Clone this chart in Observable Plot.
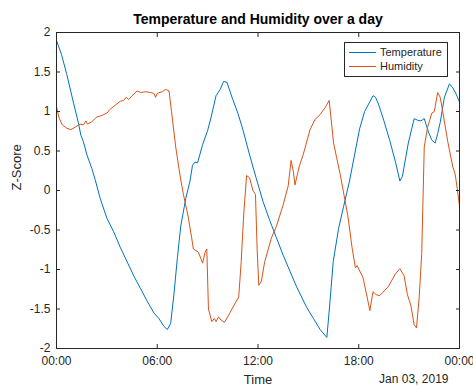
<!DOCTYPE html>
<html>
<head>
<meta charset="utf-8">
<script src="https://cdn.jsdelivr.net/npm/d3@7"></script>
<script src="https://cdn.jsdelivr.net/npm/@observablehq/plot@0.6"></script>
<style>
  html, body { margin: 0; padding: 0; background: #fff; }
  #wrap { position: relative; width: 473px; height: 387px; font-family: "Liberation Sans", Arial, sans-serif; }
  #legend { position: absolute; left: 344px; top: 42px; width: 102px; height: 33px; border: 1px solid #262626; background: #fff; font-size: 11px; color: #262626; }
  .item { position: absolute; left: 4px; height: 14px; display: flex; align-items: center; }
  .sw { width: 27px; height: 1px; margin-right: 4px; }
</style>
</head>
<body>
<div id="wrap"></div>
<script>
// ---- data (hours since midnight, z-score) ----
const title = "Temperature and Humidity over a day";
const xLabel = "Time";
const yLabel = "Z-Score";
const dateLabel = "Jan 03, 2019";
const seriesNames = ["Temperature", "Humidity"];
const seriesColors = ["#0072BD", "#D95319"];
const yTicks = [-2, -1.5, -1, -0.5, 0, 0.5, 1, 1.5, 2];
const xTickHours = [0, 6, 12, 18, 24];

const temperature = [
  [0, 1.90], [0.3, 1.72], [0.6, 1.48], [1.0, 1.12], [1.3, 0.86], [1.45, 0.70], [1.6, 0.62],
  [1.8, 0.46], [2.1, 0.28], [2.3, 0.14], [2.6, -0.10], [3.0, -0.35], [3.4, -0.52], [3.8, -0.72],
  [4.2, -0.90], [4.6, -1.08], [5.0, -1.24], [5.4, -1.40], [5.8, -1.55], [6.1, -1.62], [6.4, -1.72],
  [6.6, -1.76], [6.8, -1.68], [7.0, -1.30], [7.2, -0.85], [7.4, -0.45], [7.7, -0.10], [7.95, 0.12],
  [8.1, 0.32], [8.25, 0.36], [8.4, 0.35], [8.7, 0.58], [9.0, 0.76], [9.2, 0.92], [9.5, 1.20],
  [9.75, 1.28], [9.95, 1.38], [10.15, 1.37], [10.5, 1.15], [10.8, 0.98], [11.1, 0.77], [11.5, 0.45],
  [11.9, 0.15], [12.3, -0.14], [12.7, -0.38], [13.1, -0.60], [13.5, -0.82], [13.9, -1.02],
  [14.3, -1.22], [14.9, -1.48], [15.3, -1.62], [15.7, -1.76], [16.1, -1.86], [16.25, -1.50],
  [16.48, -0.90], [16.8, -0.48], [17.1, -0.20], [17.45, 0.12], [17.75, 0.45], [18.05, 0.78],
  [18.35, 1.00], [18.65, 1.12], [18.85, 1.20], [19.0, 1.18], [19.2, 1.08], [19.5, 0.88],
  [19.85, 0.63], [20.2, 0.35], [20.45, 0.12], [20.6, 0.18], [20.95, 0.60], [21.3, 0.91],
  [21.5, 0.89], [21.7, 0.88], [21.9, 0.91], [22.15, 0.74], [22.35, 0.64], [22.55, 0.60],
  [22.7, 0.72], [22.85, 0.86], [23.1, 1.18], [23.4, 1.35], [23.6, 1.30], [23.8, 1.22], [24.0, 1.12]
];

const humidity = [
  [0, 1.06], [0.15, 0.92], [0.35, 0.83], [0.6, 0.79], [0.85, 0.77], [1.1, 0.80], [1.4, 0.84],
  [1.6, 0.83], [1.75, 0.88], [1.85, 0.84], [2.1, 0.87], [2.4, 0.93], [2.7, 0.95], [3.0, 0.98],
  [3.2, 1.03], [3.5, 1.08], [3.8, 1.13], [4.0, 1.14], [4.15, 1.18], [4.3, 1.15], [4.5, 1.20],
  [4.8, 1.26], [5.0, 1.24], [5.3, 1.25], [5.6, 1.24], [5.8, 1.23], [5.9, 1.18], [6.0, 1.23],
  [6.3, 1.25], [6.5, 1.28], [6.7, 1.26], [6.85, 1.00], [7.1, 0.55], [7.35, 0.20], [7.55, -0.04],
  [7.85, -0.34], [8.05, -0.60], [8.15, -0.74], [8.45, -0.78], [8.7, -0.92], [8.85, -0.78],
  [8.95, -0.74], [9.05, -1.50], [9.25, -1.66], [9.4, -1.62], [9.5, -1.66], [9.65, -1.60],
  [9.8, -1.64], [10.0, -1.67], [10.3, -1.56], [10.55, -1.46], [10.85, -1.35], [11.0, -0.90],
  [11.15, -0.30], [11.32, 0.19], [11.5, 0.16], [11.7, 0.00], [11.85, -0.05], [11.95, -0.75],
  [12.05, -1.20], [12.2, -1.15], [12.4, -0.90], [12.8, -0.60], [13.1, -0.45], [13.5, -0.18],
  [13.8, 0.06], [13.97, 0.38], [14.1, 0.25], [14.2, 0.07], [14.45, 0.30], [14.7, 0.46],
  [15.1, 0.77], [15.4, 0.90], [15.7, 0.96], [16.0, 1.05], [16.24, 1.14], [16.5, 0.60],
  [16.9, 0.20], [17.35, -0.32], [17.6, -0.72], [17.8, -0.98], [17.9, -0.95], [18.25, -1.10],
  [18.5, -1.35], [18.66, -1.52], [18.85, -1.28], [19.05, -1.32], [19.25, -1.33], [19.75, -1.22],
  [20.2, -1.05], [20.45, -0.99], [20.7, -1.08], [20.9, -1.32], [21.1, -1.45], [21.3, -1.70],
  [21.44, -1.74], [21.6, -1.35], [21.75, -0.80], [21.9, 0.55], [22.1, 0.80], [22.35, 0.98],
  [22.5, 1.00], [22.7, 1.24], [22.85, 1.18], [23.0, 1.00], [23.3, 0.62], [23.6, 0.30],
  [23.75, 0.20], [24.0, -0.19]
];

// ---- build ----
const day0 = Date.UTC(2019, 0, 3);
const toDate = h => new Date(day0 + h * 3600e3);
const rows = [];
for (const [h, v] of temperature) rows.push({time: toDate(h), z: v, series: seriesNames[0]});
for (const [h, v] of humidity) rows.push({time: toDate(h), z: v, series: seriesNames[1]});
const xTicks = xTickHours.map(toDate);
const ink = "#262626";
const font = "'Liberation Sans', Arial, sans-serif";

const chart = Plot.plot({
  width: 473,
  height: 387,
  marginLeft: 56,
  marginRight: 14,
  marginTop: 32,
  marginBottom: 39,
  style: {fontFamily: font, fontSize: "12px", color: ink, background: "#fff"},
  x: {type: "utc", domain: [toDate(0), toDate(24)]},
  y: {domain: [-2, 2]},
  color: {domain: seriesNames, range: seriesColors},
  marks: [
    Plot.line(rows, {x: "time", y: "z", z: "series", stroke: "series", strokeWidth: 1}),
    Plot.frame({stroke: ink, strokeWidth: 1}),
    Plot.axisX({anchor: "bottom", ticks: xTicks, tickFormat: d3.utcFormat("%H:%M"), tickSize: -4, tickPadding: 12, label: null, stroke: ink, fill: ink, fontSize: "12px"}),
    Plot.axisX({anchor: "top", ticks: xTicks, tickFormat: () => "", tickSize: -4, label: null, stroke: ink}),
    Plot.axisY({anchor: "left", ticks: yTicks, tickFormat: d => String(d), tickSize: -4, tickPadding: 10, label: null, stroke: ink, fill: ink, fontSize: "12px"}),
    Plot.axisY({anchor: "right", ticks: yTicks, tickFormat: () => "", tickSize: -4, label: null, stroke: ink}),
    Plot.text([title], {text: d => d, frameAnchor: "top", dy: -13, fontWeight: "bold", fontSize: "14px", fill: "#000", lineAnchor: "middle"}),
    Plot.text([xLabel], {text: d => d, frameAnchor: "bottom", dy: 31, fontSize: "13px", fill: ink, lineAnchor: "middle"}),
    Plot.text([dateLabel], {text: d => d, frameAnchor: "bottom-right", dy: 31, dx: -11, textAnchor: "end", fontSize: "12px", fill: ink, lineAnchor: "middle"}),
    Plot.text([yLabel], {text: d => d, frameAnchor: "left", dx: -40, rotate: -90, fontSize: "13px", fill: ink, lineAnchor: "middle"})
  ]
});

const wrap = document.getElementById("wrap");
wrap.appendChild(chart);

// legend
const legend = document.createElement("div");
legend.id = "legend";
seriesNames.forEach((name, i) => {
  const item = document.createElement("div");
  item.className = "item";
  item.style.top = (2 + i * 14) + "px";
  const sw = document.createElement("span");
  sw.className = "sw";
  sw.style.background = seriesColors[i];
  const t = document.createElement("span");
  t.textContent = name;
  item.appendChild(sw);
  item.appendChild(t);
  legend.appendChild(item);
});
wrap.appendChild(legend);
</script>
</body>
</html>
